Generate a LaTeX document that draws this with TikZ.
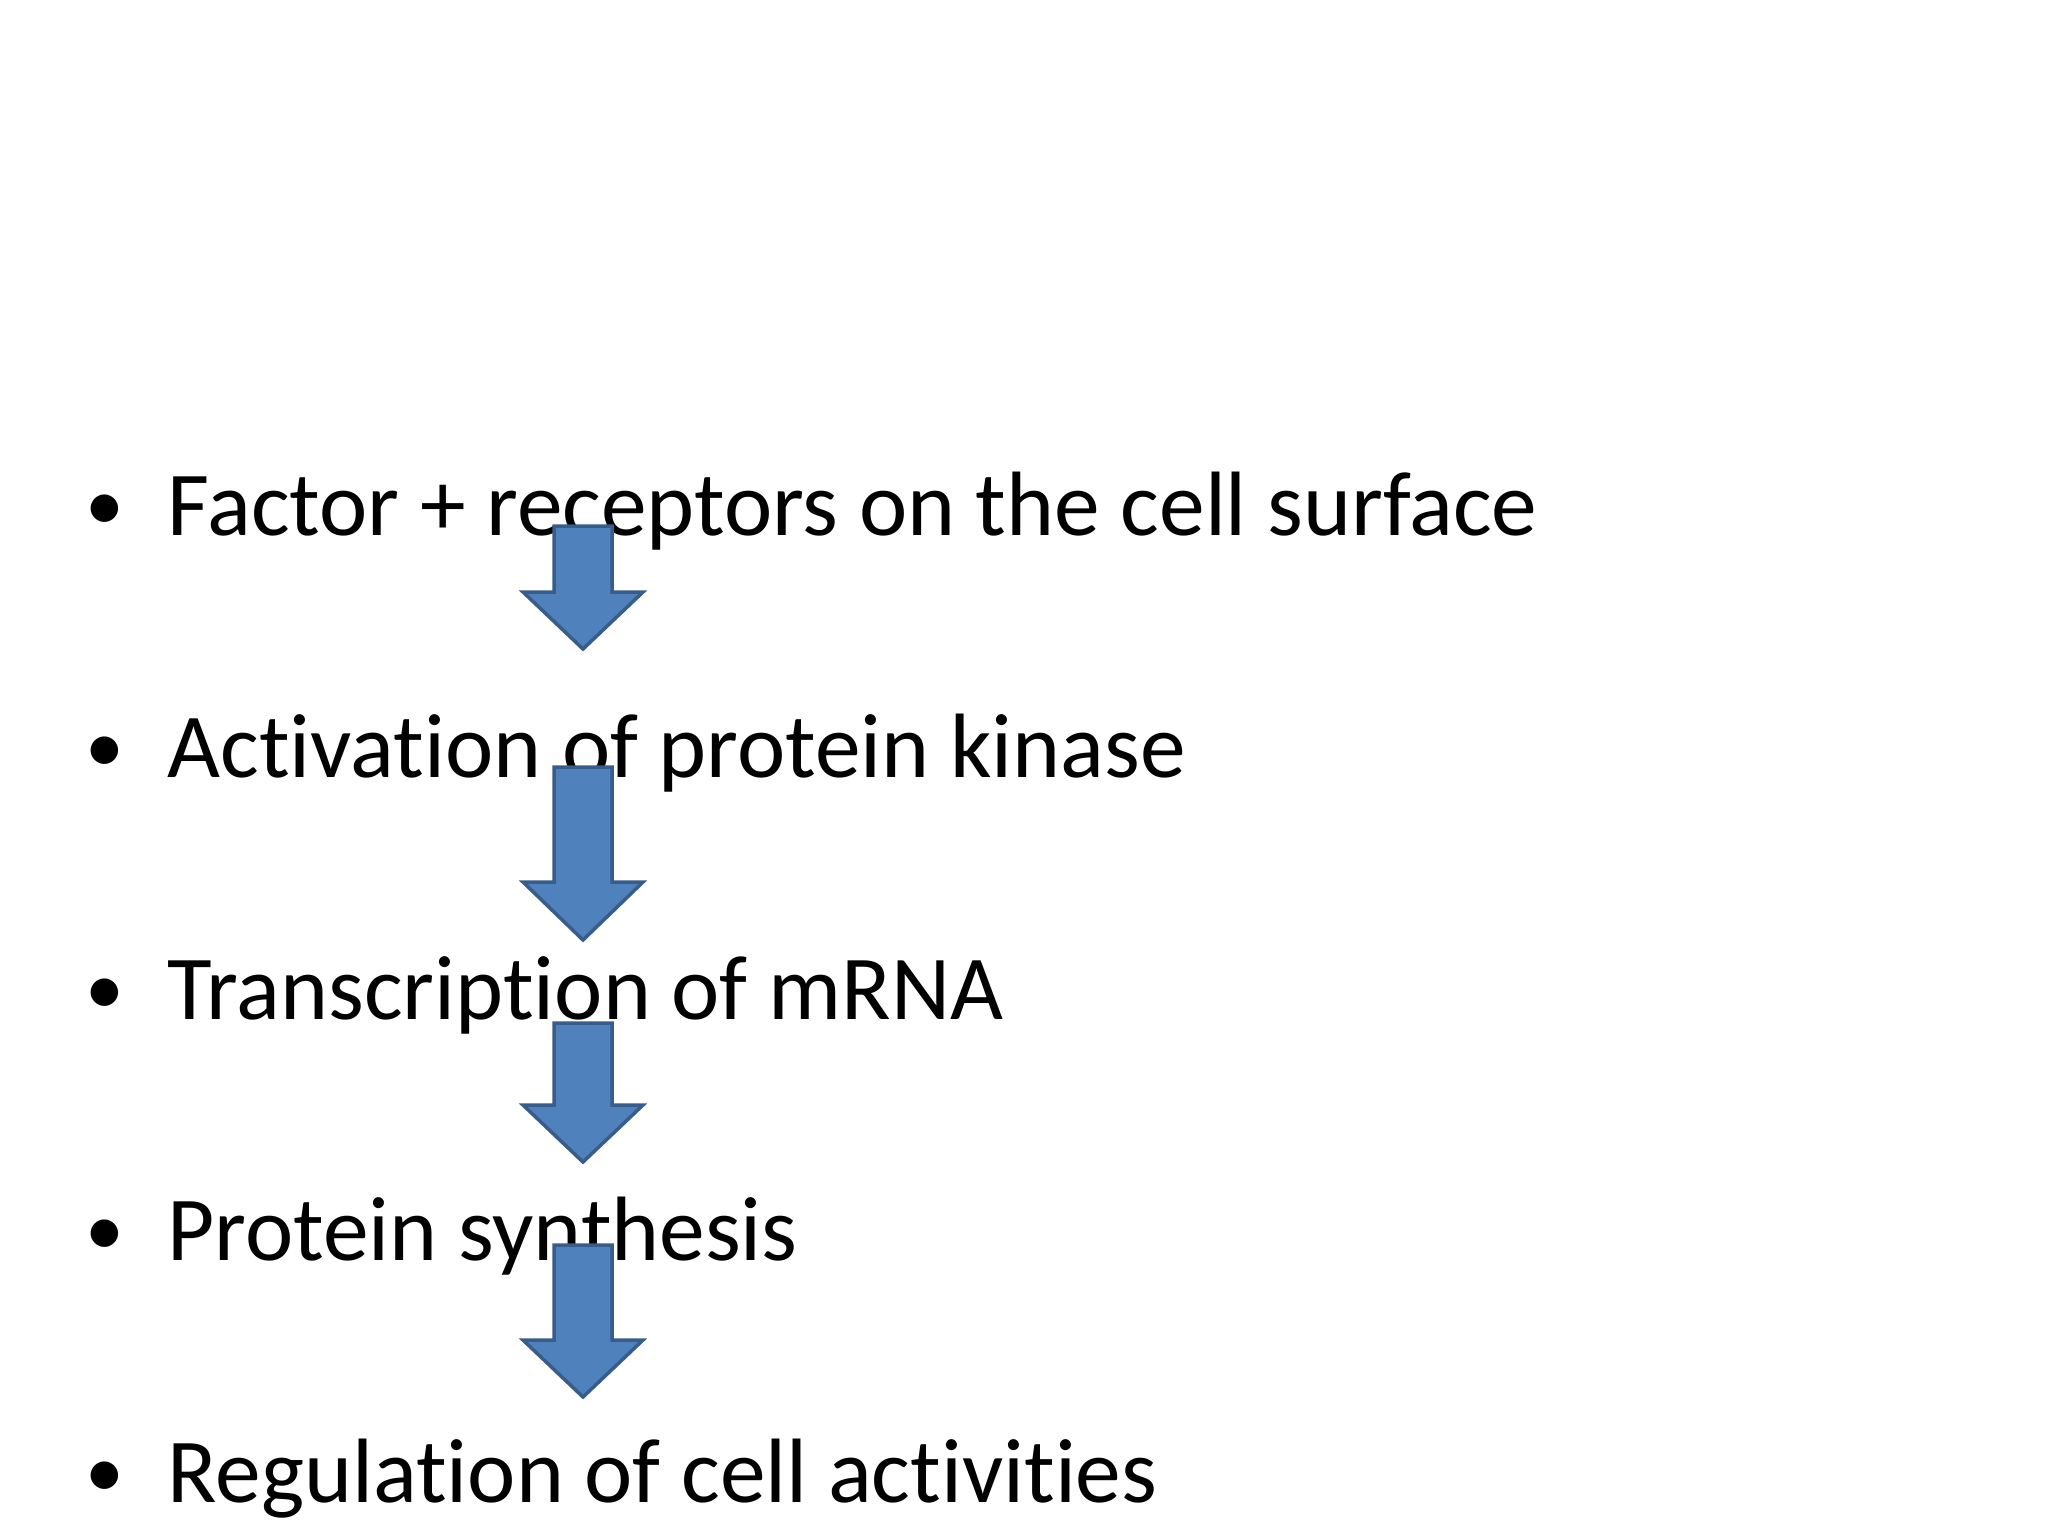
\documentclass[tikz,border=0pt]{standalone}
\usepackage{fontspec}
\setmainfont{Carlito}[Ligatures={NoCommon}]
\definecolor{arrowfill}{HTML}{4F81BD}
\definecolor{arrowline}{HTML}{385D8A}
\newcommand{\itembullet}{\llap{\raisebox{0.05em}{\scalebox{0.85}{\textbullet}}\hspace{0.43cm}}}
\begin{document}
\begin{tikzpicture}[x=0.01cm,y=-0.01cm,
     item/.style={anchor=base west,inner sep=0pt,font=\fontsize{26}{31}\selectfont},
     blockarrow/.style={fill=arrowfill,draw=arrowline,line width=0.035cm,line join=miter}]

      \fill[white] (0,0) rectangle (2048,1536);
      \useasboundingbox (0,0) rectangle (2048,1536);

      \node[item] (f1) at (167,535)  {\itembullet Factor + receptors on the cell surface};
      \node[item] (f2) at (167,777)  {\itembullet Activation of protein kinase};
      \node[item] (f3) at (167,1019) {\itembullet Transcription of mRNA};
      \node[item] (f4) at (167,1260) {\itembullet Protein synthesis};
      \node[item] (f5) at (167,1502) {\itembullet Regulation of cell activities};

      % block arrows: top of shaft / start of head / tip
      \foreach \t/\h/\p in {526/592/649, 767/882/940, 1023/1105/1162, 1245/1340/1397} {
       \draw[blockarrow] (554,\t) -- (612,\t) -- (612,\h) -- (643,\h) -- (583,\p)
             -- (523,\h) -- (554,\h) -- cycle;}
    \end{tikzpicture}
\end{document}
